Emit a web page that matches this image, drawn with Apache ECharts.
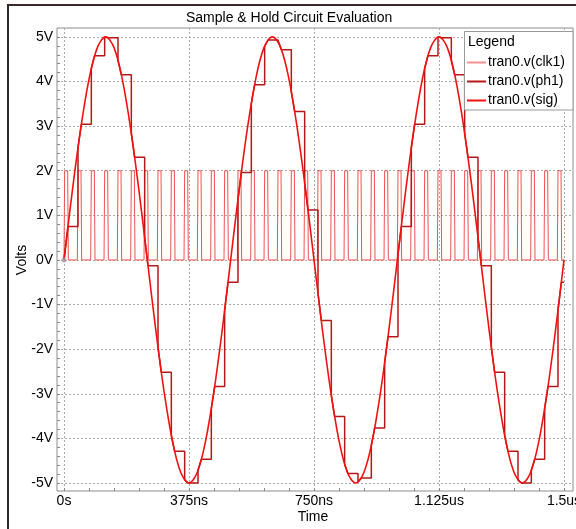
<!DOCTYPE html>
<html>
<head>
<meta charset="utf-8">
<script src="https://cdn.jsdelivr.net/npm/echarts@6/dist/echarts.min.js"></script>
<style>
  html, body { margin: 0; padding: 0; background: #fff; }
  #chart { width: 576px; height: 529px; }
</style>
</head>
<body>
<div id="chart"></div>
<script>
// ── data (time in ns, volts) ──
const xTickVals = [0, 375, 750, 1125, 1500];
const yTickVals = [-5, -4, -3, -2, -1, 0, 1, 2, 3, 4, 5];

// sig: sampled every 25ns
const sigStep = 25;
const sigV = [
  0, 1.55, 2.94, 4.05, 4.76, 5, 4.76, 4.05, 2.94, 1.55,
  0, -1.55, -2.94, -4.05, -4.76, -5, -4.76, -4.05, -2.94, -1.55,
  0, 1.55, 2.94, 4.05, 4.76, 5, 4.76, 4.05, 2.94, 1.55,
  0, -1.55, -2.94, -4.05, -4.76, -5, -4.76, -4.05, -2.94, -1.55,
  0, 1.55, 2.94, 4.05, 4.76, 5, 4.76, 4.05, 2.94, 1.55,
  0, -1.55, -2.94, -4.05, -4.76, -5, -4.76, -4.05, -2.94, -1.55,
  0
];

// clk1: rising edge times of each pulse (0 -> 2V)
const clkRise = [
  0, 40, 80, 120, 160, 200, 240, 280, 320, 360,
  400, 440, 480, 520, 560, 600, 640, 680, 720, 760,
  800, 840, 880, 920, 960, 1000, 1040, 1080, 1120, 1160,
  1200, 1240, 1280, 1320, 1360, 1400, 1440, 1480
];
const clkLow = 0, clkHigh = 2;

// ph1: level reached at the jump, then level held until next pulse
const jumpV = [
  0, 2.52, 4.29, 5.00, 4.47, 2.84, 0.50, -1.96, -3.93, -4.93,
  -4.71, -3.33, -1.12, 1.36, 3.51, 4.79, 4.89, 3.77, 1.72, -0.75,
  -3.04, -4.58, -4.98, -4.15, -2.30, 0.13, 2.52, 4.29, 5.00, 4.47,
  2.84, 0.50, -1.96, -3.93, -4.93, -4.71, -3.33, -1.12
];
const holdV = [
  0.75, 3.04, 4.58, 4.98, 4.15, 2.30, -0.13, -2.52, -4.29, -5.00,
  -4.47, -2.84, -0.50, 1.96, 3.93, 4.93, 4.71, 3.33, 1.12, -1.36,
  -3.51, -4.79, -4.89, -3.77, -1.72, 0.75, 3.04, 4.58, 4.98, 4.15,
  2.30, -0.13, -2.52, -4.29, -5.00, -4.47, -2.84, -0.50
];
const originPt = [[0, 0]];
const tEnd = 1500;

// ── pulse timing (ns after rising edge) ──
const EDGE = 2, TOP = 9, JUMP_AT = 2, HOLD_AT = 12;

const sigData = sigV.map((v, i) => [i * sigStep, v]);

const clkData = [];
clkRise.forEach((t) => {
  clkData.push([t, clkLow], [t + EDGE, clkHigh], [t + EDGE + TOP, clkHigh], [t + 2 * EDGE + TOP, clkLow]);
});
clkData.push([tEnd, clkLow]);

const ph1Data = [[0, jumpV[0]], [clkRise[0] + HOLD_AT, holdV[0]]];
for (let k = 1; k < clkRise.length; k++) {
  const tj = clkRise[k] + JUMP_AT;
  ph1Data.push([tj, holdV[k - 1]], [tj, jumpV[k]], [clkRise[k] + HOLD_AT, holdV[k]]);
}
ph1Data.push([tEnd, holdV[holdV.length - 1]]);

// minor ticks (5 per label step)
const xMinor = [];
for (let v = 0; v <= 1500; v += 75) xMinor.push(v);
const yMinor = [];
for (let i = -25; i <= 25; i++) yMinor.push(Math.round(i * 2) / 10);

function fmtTime(v) {
  if (v === 0) return "0s";
  if (v >= 1000) return (v / 1000) + "us";
  return v + "ns";
}

const FONT = "'Liberation Sans', Arial, sans-serif";
const GRID_C = "#aaaaaa";
const TICK_C = "#888888";
const C_CLK = "#ee5252", C_PH1 = "#b41818", C_SIG = "#f21010";

const X_MIN = -21, X_MAX = 1527, Y_MIN = -5.18, Y_MAX = 5.2;

const chart = echarts.init(document.getElementById("chart"), null, { renderer: "canvas" });
chart.setOption({
  animation: false,
  backgroundColor: "#ffffff",
  textStyle: { fontFamily: FONT },
  title: {
    text: "Sample & Hold Circuit Evaluation",
    left: 186, top: 11, padding: 0,
    textStyle: { fontFamily: FONT, fontSize: 14, fontWeight: "normal", color: "#000" },
  },
  grid: {
    left: 57, top: 28, width: 516, height: 463,
    show: true, borderColor: "#8c8c8c", borderWidth: 1,
    containLabel: false, outerBoundsMode: "none",
  },
  legend: {
    orient: "vertical", left: 467, top: 55, padding: 0,
    itemWidth: 19, itemHeight: 2, itemGap: 4, z: 20, icon: "rect",
    data: [
      { name: "tran0.v(clk1)", itemStyle: { color: "#f39090" } },
      { name: "tran0.v(ph1)", itemStyle: { color: C_PH1 } },
      { name: "tran0.v(sig)", itemStyle: { color: C_SIG } },
    ],
    textStyle: { fontFamily: FONT, fontSize: 14, color: "#000", lineHeight: 15, padding: [0, 0, 0, -3] },
  },
  xAxis: [
    {
      type: "value", min: X_MIN, max: X_MAX, position: "bottom",
      axisLine: { show: false, onZero: false },
      axisTick: { show: false, customValues: xTickVals },
      axisLabel: {
        customValues: xTickVals, formatter: fmtTime, margin: 3,
        fontFamily: FONT, fontSize: 14, color: "#000",
      },
      splitLine: { show: true, lineStyle: { color: GRID_C, type: [2, 2], width: 1 } },
    },
    {
      type: "value", min: X_MIN, max: X_MAX, position: "bottom",
      axisLine: { show: false, onZero: false },
      axisTick: { show: true, inside: true, length: 3, customValues: xMinor, lineStyle: { color: TICK_C } },
      axisLabel: { show: false },
      splitLine: { show: false },
    },
  ],
  yAxis: [
    {
      type: "value", min: Y_MIN, max: Y_MAX, position: "left",
      axisLine: { show: false, onZero: false },
      axisTick: { show: false, customValues: yTickVals },
      axisLabel: {
        customValues: yTickVals, formatter: (v) => v + "V", margin: 4,
        fontFamily: FONT, fontSize: 14, color: "#000",
      },
      splitLine: { show: true, lineStyle: { color: GRID_C, type: [2, 2], width: 1 } },
    },
    {
      type: "value", min: Y_MIN, max: Y_MAX, position: "left",
      axisLine: { show: false, onZero: false },
      axisTick: { show: true, inside: true, length: 3, customValues: yMinor, lineStyle: { color: TICK_C } },
      axisLabel: { show: false },
      splitLine: { show: false },
    },
  ],
  graphic: [
    // outer window frame
    { type: "line", shape: { x1: 8, y1: 5, x2: 576, y2: 5 }, style: { stroke: "#3a2a2a", lineWidth: 2 } },
    { type: "line", shape: { x1: 8, y1: 4, x2: 8, y2: 529 }, style: { stroke: "#2a2a2a", lineWidth: 2 } },
    // axis titles
    {
      type: "text", x: 22, y: 260, rotation: Math.PI / 2,
      style: { text: "Volts", fontFamily: FONT, fontSize: 14, fill: "#000", align: "center", verticalAlign: "middle" },
    },
    {
      type: "text", x: 313, y: 517,
      style: { text: "Time", fontFamily: FONT, fontSize: 14, fill: "#000", align: "center", verticalAlign: "middle" },
    },
    // legend box
    {
      type: "rect", z: 10, shape: { x: 464.5, y: 31.5, width: 108.5, height: 78.5 },
      style: { fill: "#ffffff", stroke: "#999999", lineWidth: 1 },
    },
    {
      type: "text", z: 11, x: 468, y: 35,
      style: { text: "Legend", fontFamily: FONT, fontSize: 14, fill: "#000" },
    },
  ],
  series: [
    {
      name: "tran0.v(clk1)", type: "line", data: clkData, symbol: "none",
      lineStyle: { color: C_CLK, width: 1 }, itemStyle: { color: C_CLK }, z: 2,
    },
    {
      name: "tran0.v(ph1)", type: "line", data: ph1Data, symbol: "none",
      lineStyle: { color: C_PH1, width: 1.5 }, itemStyle: { color: C_PH1 }, z: 3,
    },
    {
      name: "tran0.v(sig)", type: "line", data: sigData, symbol: "none", smooth: 0.35,
      lineStyle: { color: C_SIG, width: 1.6 }, itemStyle: { color: C_SIG }, z: 4,
    },
    {
      type: "scatter", data: originPt, symbolSize: 5, silent: true,
      itemStyle: { color: "#a0a0a0" }, z: 5,
    },
  ],
});
</script>
</body>
</html>
